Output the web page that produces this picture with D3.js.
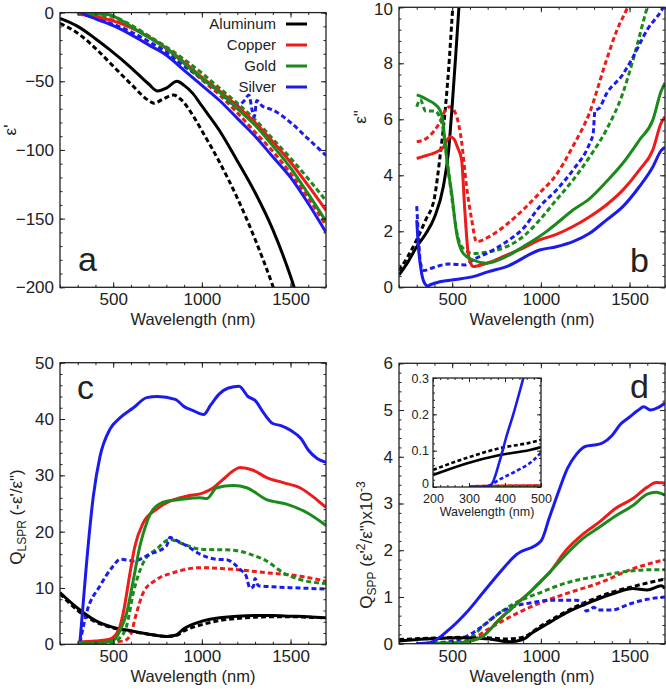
<!DOCTYPE html>
<html>
<head>
<meta charset="utf-8">
<title>Metal permittivity and quality factors</title>
<script src="https://d3js.org/d3.v7.min.js"></script>
<style>
  body { margin: 0; background: #fff; }
  svg text { font-family: "Liberation Sans", Arial, sans-serif; fill: #222; }
</style>
</head>
<body>
<div id="chart"></div>
<script>
// ---- data (wavelength nm, value) ----
var metals = ["Aluminum", "Copper", "Gold", "Silver"];
var colors = ["#000000", "#ee1b1b", "#1b8a1b", "#1b1bee"];

// panel a : eps'
var aAlSolid = [[200,-4.2],[300,-10],[400,-19],[480,-27],[600,-40],[700,-52],[750,-57],[800,-55],[860,-50],[900,-53],[950,-59],[1000,-68],[1100,-86],[1200,-108],[1300,-131],[1400,-158],[1500,-192],[1550,-212]];
var aAlDash  = [[200,-7.8],[300,-15],[400,-26],[500,-39],[600,-52],[700,-64],[730,-66],[780,-63],[840,-60],[880,-63],[950,-75],[1000,-86],[1100,-109],[1200,-135],[1300,-165],[1400,-199],[1450,-218]];
var aCuSolid = [[300,-1],[400,-3],[500,-6],[600,-11],[700,-18],[800,-26],[900,-36],[1000,-47],[1100,-57],[1200,-68],[1300,-80],[1400,-94],[1500,-109],[1600,-126],[1700,-144]];
var aCuDash  = [[300,-1],[400,-3],[500,-5.5],[600,-11],[700,-17],[800,-27],[900,-37],[1000,-49],[1100,-60],[1200,-73],[1300,-87],[1400,-101],[1500,-117],[1600,-135],[1700,-155]];
var aAuSolid = [[300,0],[400,-1],[480,-1.5],[500,-2.5],[550,-6],[600,-10],[700,-18],[800,-26],[900,-37],[1000,-48],[1100,-58],[1200,-70],[1300,-82],[1400,-97],[1500,-113],[1600,-132],[1700,-152]];
var aAuDash  = [[300,-0.5],[400,-1.5],[500,-3],[600,-9],[700,-17],[800,-25],[900,-34],[1000,-44],[1100,-55],[1200,-66],[1300,-78],[1400,-92],[1500,-106],[1600,-121],[1700,-137]];
var aAgSolid = [[300,1.5],[320,0],[350,-2],[400,-4.5],[500,-9.5],[600,-16],[700,-23.5],[800,-31],[900,-42],[1000,-53],[1100,-64],[1200,-77],[1300,-90],[1400,-105],[1500,-120],[1600,-139],[1700,-160]];
var aAgDash  = [[300,0],[350,-2],[400,-4],[500,-8.5],[600,-14],[700,-21],[800,-29],[900,-39],[1000,-48],[1100,-58],[1200,-68],[1240,-64],[1265,-60],[1285,-72],[1295,-76],[1310,-64],[1340,-68],[1380,-70],[1400,-71],[1500,-80],[1600,-92],[1700,-104]];

// panel b : eps''
var bAlSolid = [[200,0.44],[250,0.9],[300,1.45],[350,1.9],[400,2.5],[450,3.6],[480,4.9],[500,6.5],[520,8.3],[540,10.2],[560,12]];
var bAlDash  = [[200,0.6],[250,1.1],[300,1.7],[350,2.4],[400,3.2],[430,4.6],[460,6.3],[480,7.8],[500,9.7],[520,11.5]];
var bCuSolid = [[300,4.6],[350,4.7],[400,4.8],[450,5.0],[487,5.38],[510,5.3],[530,5.0],[553,4.55],[571,2.76],[590,1.21],[605,0.85],[618,0.74],[640,0.76],[700,0.87],[806,1.15],[900,1.4],[993,1.69],[1087,1.89],[1181,2.17],[1275,2.52],[1369,2.94],[1462,3.47],[1556,4.19],[1631,4.9],[1678,5.86],[1700,6.1]];
var bCuDash  = [[300,5.2],[350,5.3],[400,5.6],[431,5.9],[460,6.3],[487,6.45],[525,6.1],[553,5.2],[581,3.6],[609,2.45],[637,1.63],[712,1.82],[806,2.24],[900,2.77],[993,3.37],[1087,4.02],[1181,5.04],[1275,6.24],[1369,8.1],[1430,9.2],[1489,10],[1550,11]];
var bAuSolid = [[300,6.87],[330,6.8],[360,6.7],[400,6.55],[431,6.33],[446,6.0],[459,5.2],[475,4.3],[497,3.36],[525,1.93],[562,1.21],[618,0.975],[693,0.86],[806,1.1],[900,1.45],[1031,1.99],[1087,2.27],[1181,2.76],[1275,3.17],[1369,3.77],[1462,4.43],[1556,5.26],[1631,5.97],[1678,7.0],[1700,7.3]];
var bAuDash  = [[300,6.45],[320,6.7],[350,6.3],[400,6.3],[440,5.9],[470,4.6],[500,3.1],[525,2.0],[560,1.4],[618,1.21],[712,1.27],[806,1.45],[900,1.81],[993,2.4],[1087,3.12],[1181,3.83],[1275,4.66],[1369,5.62],[1462,6.93],[1519,8.1],[1600,10],[1650,11]];
var bAgSolid = [[300,2.4],[310,1.4],[325,0.6],[340,0.2],[360,0.05],[380,0.1],[431,0.2],[520,0.28],[618,0.38],[700,0.55],[806,0.74],[993,1.33],[1087,1.45],[1181,1.63],[1275,1.93],[1369,2.4],[1462,2.88],[1556,3.6],[1631,4.3],[1678,4.88],[1700,5.0]];
var bAgDash  = [[300,2.9],[310,1.8],[320,0.9],[340,0.6],[391,0.7],[481,0.83],[573,0.8],[618,0.98],[712,1.27],[806,1.63],[900,2.1],[993,2.88],[1087,3.47],[1181,4.19],[1275,5.14],[1295,5.5],[1305,6.3],[1330,6.4],[1369,6.9],[1462,7.6],[1509,8.1],[1600,9.2],[1690,10],[1720,10.4]];

// panel c : Q_LSPR
var cAlSolid = [[200,9.2],[300,6.4],[400,4.2],[500,3.0],[600,2.4],[700,1.8],[800,1.4],[850,1.6],[900,2.8],[1000,4.1],[1100,4.7],[1200,5.0],[1300,5.1],[1400,5.1],[1500,5.0],[1600,4.9],[1700,4.7]];
var cAlDash  = [[200,9.0],[300,6.0],[400,4.0],[500,2.9],[600,2.3],[700,1.8],[800,1.4],[850,1.5],[900,2.4],[1000,3.5],[1100,4.2],[1200,4.6],[1300,4.8],[1400,4.9],[1500,4.9],[1600,4.8],[1700,4.7]];
var cCuSolid = [[300,0.4],[400,0.6],[480,0.9],[530,2.5],[557,5.6],[595,12.7],[623,17.5],[670,21.6],[745,24],[820,25.4],[914,26.3],[1008,26.9],[1065,27.8],[1120,29.3],[1177,30.8],[1215,31.4],[1290,30.9],[1365,29.6],[1459,28.7],[1553,27.8],[1647,25.7],[1700,24.3]];
var cCuDash  = [[300,0.2],[450,0.3],[560,0.6],[595,1.5],[632,5.6],[670,9.2],[745,11.5],[839,12.7],[990,13.6],[1177,13.3],[1365,12.7],[1553,12.1],[1700,11.2]];
var cAuSolid = [[300,0.2],[400,0.3],[490,0.5],[540,2.5],[576,5.6],[614,11.5],[651,17.5],[689,21.6],[726,24],[801,25.4],[877,25.7],[990,26],[1030,25.9],[1083,27.8],[1177,28.2],[1253,27.8],[1365,25.7],[1478,24.9],[1591,23.4],[1700,21.1]];
var cAuDash  = [[300,0.1],[480,0.2],[540,1.2],[576,3.3],[614,9.2],[670,14.5],[745,16.9],[820,18.6],[895,17.8],[990,16.9],[1177,16.7],[1271,16],[1365,14.8],[1459,12.7],[1553,11.5],[1700,10.8]];
var cAgSolid = [[313,0.6],[330,7],[350,14.5],[388,26.3],[426,33.4],[482,38.2],[538,40.2],[614,42],[689,43.8],[750,44],[850,43.5],[900,42.2],[950,41.5],[1010,40.8],[1050,42.5],[1100,44.5],[1150,45.5],[1210,45.8],[1260,44],[1300,43.3],[1350,41],[1400,39.2],[1450,38.8],[1500,38],[1560,36.5],[1600,34.5],[1650,33],[1700,32.3]];
var cAgDash  = [[313,0.3],[350,5.6],[426,10.4],[500,13.9],[538,15.1],[614,14.8],[708,16],[801,17.5],[820,19],[839,18.7],[914,17.5],[990,16],[1083,15.1],[1140,15],[1215,13.3],[1250,12.1],[1271,10],[1290,10.2],[1300,11.7],[1318,10.4],[1400,10.2],[1550,10],[1700,9.8]];

// panel d : Q_SPP (x10^-3)
var dAlSolid = [[200,0.06],[350,0.1],[541,0.13],[710,0.1],[823,0.04],[898,0.09],[954,0.24],[1048,0.45],[1142,0.66],[1292,0.91],[1423,1.09],[1517,1.18],[1600,1.15],[1680,1.24],[1700,1.18]];
var dAlDash  = [[200,0.09],[400,0.12],[600,0.14],[700,0.13],[800,0.1],[900,0.14],[1000,0.38],[1100,0.6],[1200,0.8],[1292,0.95],[1400,1.1],[1517,1.22],[1600,1.3],[1700,1.38]];
var dCuSolid = [[300,0],[550,0.02],[579,0.04],[673,0.16],[767,0.52],[860,0.84],[954,1.16],[1001,1.34],[1048,1.52],[1142,2.0],[1236,2.34],[1329,2.6],[1423,2.9],[1517,3.1],[1600,3.35],[1650,3.45],[1700,3.44]];
var dCuDash  = [[300,0],[560,0.02],[616,0.09],[673,0.24],[767,0.45],[860,0.64],[1001,0.88],[1142,1.07],[1329,1.3],[1517,1.6],[1700,1.8]];
var dAuSolid = [[300,0],[550,0.02],[579,0.04],[673,0.16],[767,0.52],[860,0.84],[954,1.16],[1001,1.34],[1048,1.52],[1142,1.91],[1236,2.25],[1329,2.49],[1423,2.74],[1517,2.95],[1600,3.2],[1650,3.24],[1700,3.18]];
var dAuDash  = [[300,0],[550,0.03],[616,0.16],[673,0.38],[767,0.66],[860,0.88],[1001,1.1],[1142,1.3],[1329,1.45],[1517,1.56],[1600,1.58],[1700,1.58]];
var dAgSolid = [[300,0],[373,0.02],[485,0.31],[579,0.66],[673,1.09],[767,1.52],[860,1.9],[1001,2.2],[1048,2.7],[1104,3.3],[1150,3.75],[1200,4.05],[1250,4.22],[1300,4.25],[1350,4.3],[1400,4.45],[1450,4.7],[1500,4.85],[1550,5.0],[1580,5.07],[1620,5.0],[1660,5.05],[1700,5.15]];
var dAgDash  = [[300,0],[450,0.03],[541,0.09],[673,0.38],[767,0.66],[860,0.81],[954,0.88],[1048,0.93],[1150,0.93],[1200,0.93],[1240,0.85],[1255,0.7],[1280,0.74],[1300,0.78],[1320,0.72],[1400,0.72],[1500,0.85],[1600,0.95],[1700,1.0]];

// inset of panel d (200-500 nm)
var iAlSolid = [[200,0.033],[293,0.065],[386,0.088],[469,0.102],[500,0.11]];
var iAlDash  = [[200,0.047],[293,0.08],[386,0.107],[469,0.122],[500,0.13]];
var iAgSolid = [[300,0],[333,0],[361,0.006],[386,0.074],[404,0.139],[423,0.2],[442,0.267],[451,0.3],[460,0.33]];
var iAgDash  = [[300,0],[350,0.002],[385,0.021],[431,0.044],[477,0.072],[500,0.095]];
var iCu      = [[300,0.002],[500,0.004]];
var iAu      = [[300,0.001],[500,0.002]];

var W = 666, H = 692;
var svg = d3.select("#chart").append("svg").attr("width", W).attr("height", H);

function drawPanel(p) {
  var x = d3.scaleLinear().domain(p.xdom).range([p.left, p.right]);
  var y = d3.scaleLinear().domain(p.ydom).range([p.bottom, p.top]);
  var g = svg.append("g");
  var id = "clip" + p.name;
  svg.append("clipPath").attr("id", id).append("rect")
    .attr("x", p.left).attr("y", p.top).attr("width", p.right - p.left).attr("height", p.bottom - p.top);

  if (p.fill) g.append("rect").attr("x", p.left).attr("y", p.top)
      .attr("width", p.right - p.left).attr("height", p.bottom - p.top).attr("fill", "#fff");

  var mk = d3.line().curve(d3.curveMonotoneX).x(function(d) { return x(d[0]); }).y(function(d) { return y(d[1]); });
  var lines = g.append("g").attr("clip-path", "url(#" + id + ")");
  p.series.forEach(function(s) {
    lines.append("path").attr("d", mk(s.data)).attr("fill", "none")
      .attr("stroke", s.color).attr("stroke-width", p.lw || 3)
      .attr("stroke-dasharray", s.dash ? (p.dash || "5,3") : null)
      .attr("stroke-linejoin", "round");
  });

  var fs = p.fs || 17, ml = p.major || 5, mn = p.minor || 2.5;
  function axis(gen, scale, ticks, minors, tx, fmt, show, pad) {
    g.append("g").attr("transform", tx)
      .call(gen(scale).tickValues(minors).tickSize(-mn).tickFormat(""))
      .call(function(s) { s.select(".domain").remove(); });
    var a = g.append("g").attr("transform", tx)
      .call(gen(scale).tickValues(ticks).tickSize(-ml).tickPadding(pad).tickFormat(show ? fmt : ""));
    a.select(".domain").remove();
    a.selectAll("text").attr("font-size", fs).attr("fill", "#222");
    return a;
  }
  var fmt = p.yfmt || d3.format("");
  axis(d3.axisBottom, x, p.xticks, p.xminor, "translate(0," + p.bottom + ")", d3.format(""), true, p.xpad || 6);
  axis(d3.axisTop, x, p.xticks, p.xminor, "translate(0," + p.top + ")", d3.format(""), false, 6);
  var yl = axis(d3.axisLeft, y, p.yticks, p.yminor, "translate(" + p.left + ",0)", fmt, true, p.ypad || 6);
  axis(d3.axisRight, y, p.yticks, p.yminor, "translate(" + p.right + ",0)", fmt, false, 6);
  g.selectAll(".tick line").attr("stroke", "#222").attr("stroke-width", 1);
  if (p.topLabelShift) yl.selectAll("text").filter(function(d) { return d === p.ydom[1]; }).attr("dy", p.topLabelShift);
  if (p.bottomLabelShift) yl.selectAll("text").filter(function(d) { return d === p.ydom[0]; }).attr("dy", p.bottomLabelShift);

  g.append("rect").attr("x", p.left).attr("y", p.top)
    .attr("width", p.right - p.left).attr("height", p.bottom - p.top)
    .attr("fill", "none").attr("stroke", "#222").attr("stroke-width", 1.3);

  g.append("text").attr("x", (p.left + p.right) / 2).attr("y", p.bottom + (p.titleGap || 38))
    .attr("text-anchor", "middle").attr("font-size", p.tfs || 16.5).text("Wavelength (nm)");
  return { x: x, y: y, g: g };
}

function seriesOf(list) {
  var out = [];
  list.forEach(function(pair, i) {
    out.push({ data: pair[0], color: colors[i], dash: false });
    out.push({ data: pair[1], color: colors[i], dash: true });
  });
  // dashed drawn first, solid on top
  return out.filter(function(s) { return s.dash; }).concat(out.filter(function(s) { return !s.dash; }));
}

var xt = [500, 1000, 1500], xm = d3.range(200, 1701, 100);

// panel a
drawPanel({ name: "a", left: 60, right: 326, top: 12.6, bottom: 287.3,
  xdom: [200, 1700], ydom: [-200, 0], xticks: xt, xminor: xm,
  yticks: [-200, -150, -100, -50, 0], yminor: d3.range(-200, 1, 10),
  series: seriesOf([[aAlSolid, aAlDash], [aCuSolid, aCuDash], [aAuSolid, aAuDash], [aAgSolid, aAgDash]]) });

// panel b
drawPanel({ name: "b", left: 399, right: 665, top: 7.3, bottom: 287.3,
  xdom: [200, 1700], ydom: [0, 10], xticks: xt, xminor: xm, topLabelShift: "0.4em",
  yticks: [0, 2, 4, 6, 8, 10], yminor: d3.range(0, 10.01, 0.4),
  series: seriesOf([[bAlSolid, bAlDash], [bCuSolid, bCuDash], [bAuSolid, bAuDash], [bAgSolid, bAgDash]]) });

// panel c
drawPanel({ name: "c", left: 60, right: 326, top: 362.7, bottom: 644.3,
  xdom: [200, 1700], ydom: [0, 50], xticks: xt, xminor: xm,
  yticks: [0, 10, 20, 30, 40, 50], yminor: d3.range(0, 50.01, 2),
  series: seriesOf([[cAlSolid, cAlDash], [cCuSolid, cCuDash], [cAuSolid, cAuDash], [cAgSolid, cAgDash]]) });

// panel d
drawPanel({ name: "d", left: 399, right: 665, top: 363.3, bottom: 643.7,
  xdom: [200, 1700], ydom: [0, 6], xticks: xt, xminor: xm,
  yticks: [0, 1, 2, 3, 4, 5, 6], yminor: d3.range(0, 6.01, 0.2),
  series: seriesOf([[dAlSolid, dAlDash], [dCuSolid, dCuDash], [dAuSolid, dAuDash], [dAgSolid, dAgDash]]) });

// inset
drawPanel({ name: "inset", left: 433, right: 541, top: 378, bottom: 487, fill: true,
  xdom: [200, 500], ydom: [0, 0.3], xticks: [200, 300, 400, 500], xminor: d3.range(200, 501, 20),
  yticks: [0, 0.1, 0.2, 0.3], yminor: d3.range(0, 0.301, 0.02), yfmt: function(d) { return d === 0 ? "0" : d3.format(".1f")(d); },
  fs: 12.5, tfs: 12.5, titleGap: 29, major: 4, minor: 2, xpad: 7.5, ypad: 4, lw: 2.6, dash: "4,2.5",
  bottomLabelShift: "0.02em",
  series: seriesOf([[iAlSolid, iAlDash], [iCu, iCu], [iAu, iAu], [iAgSolid, iAgDash]]) });

// legend (panel a)
metals.forEach(function(m, i) {
  var yy = 24 + i * 21;
  svg.append("text").attr("x", 276).attr("y", yy).attr("dy", "0.35em")
    .attr("text-anchor", "end").attr("font-size", 15).text(m);
  svg.append("line").attr("x1", 286).attr("x2", 307).attr("y1", yy).attr("y2", yy)
    .attr("stroke", colors[i]).attr("stroke-width", 3);
});

// panel letters
[["a", 78, 271], ["b", 630, 272], ["c", 77, 399], ["d", 630, 398]].forEach(function(t) {
  svg.append("text").attr("x", t[1]).attr("y", t[2]).attr("font-size", 34).text(t[0]);
});

// y axis titles
function ytitle(x, y, parts) {
  var t = svg.append("text").attr("transform", "translate(" + x + "," + y + ") rotate(-90)")
    .attr("text-anchor", "middle").attr("font-size", 17);
  parts.forEach(function(p) {
    var ts = t.append("tspan").text(p[0]);
    if (p[1] === "sub") ts.attr("font-size", 12).attr("dy", 4);
    else if (p[1] === "sup") ts.attr("font-size", 12).attr("dy", -7);
    else if (p[1]) ts.attr("dy", p[1]);
  });
}
ytitle(16, 130, [["ε'"]]);
ytitle(366, 117, [["ε\""]]);
ytitle(22, 517, [["Q"], ["LSPR", "sub"], [" (-ε'/ε\")", -4]]);
ytitle(372, 545, [["Q"], ["SPP", "sub"], [" (ε'", -4], ["2", "sup"], ["/ε\")x10", 7], ["-3", "sup"]]);
</script>
</body>
</html>
